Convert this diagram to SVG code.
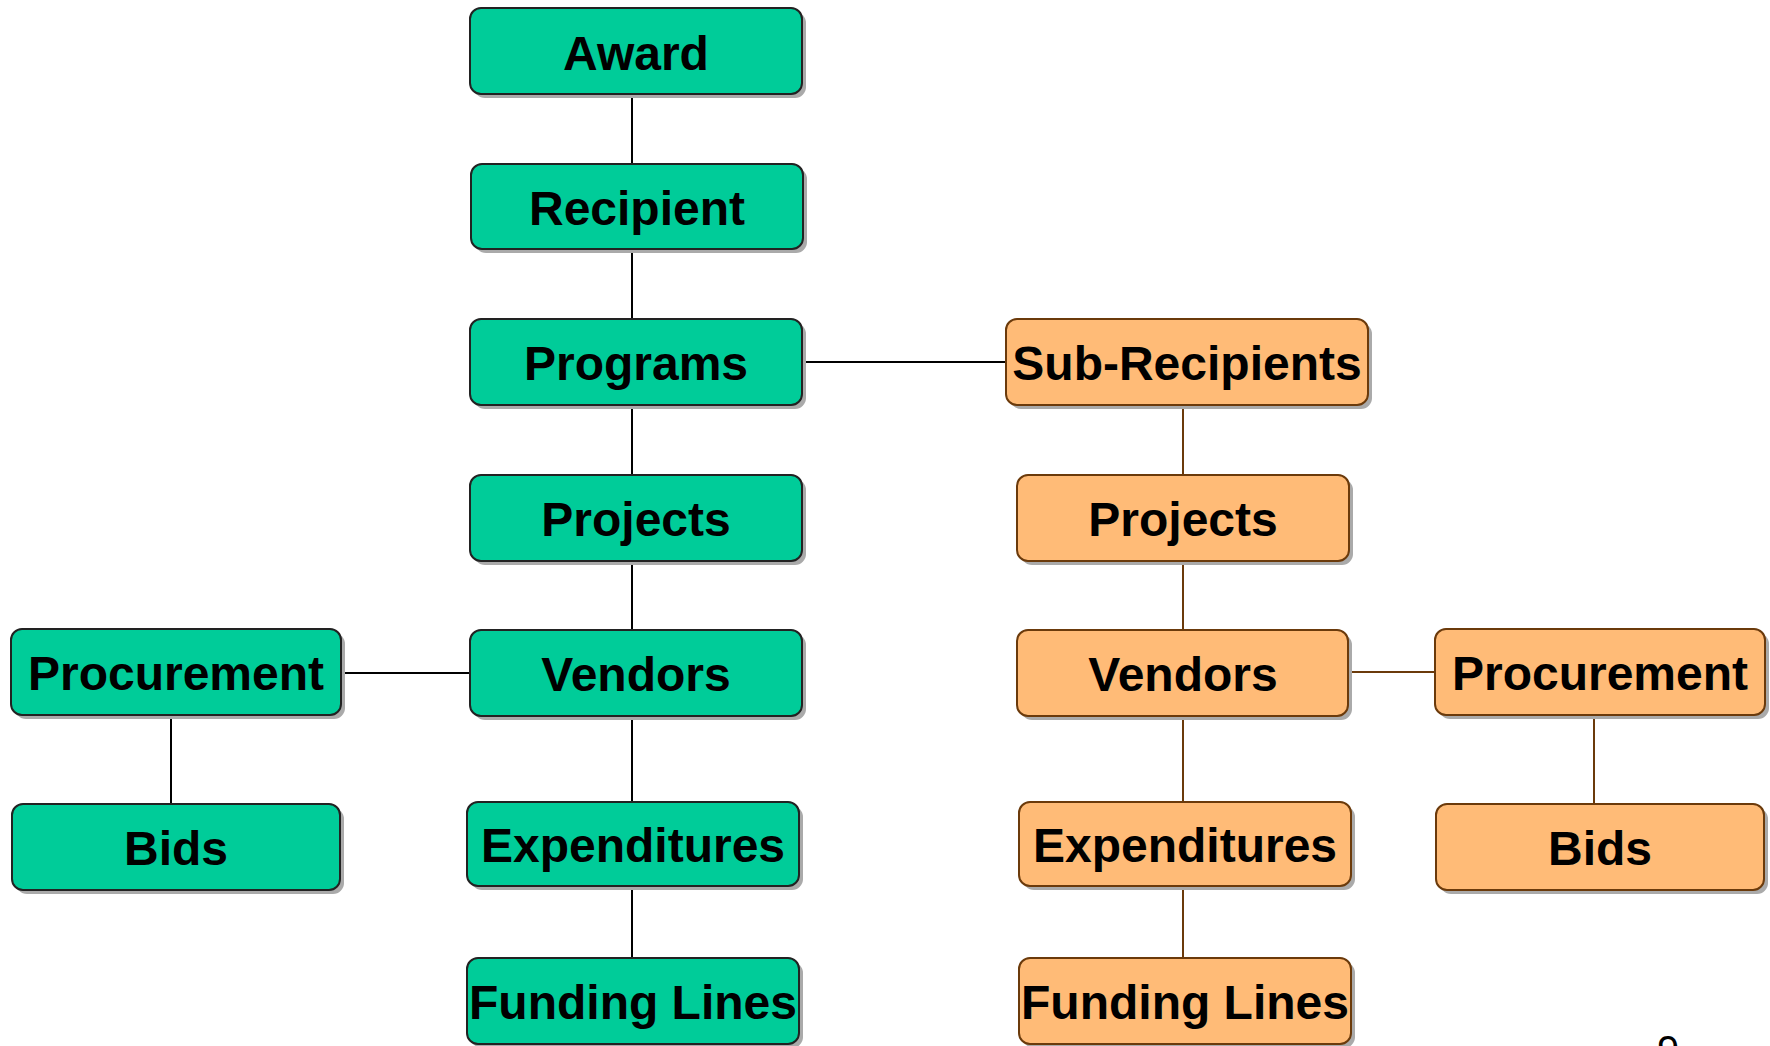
<svg xmlns="http://www.w3.org/2000/svg" width="1770" height="1046" viewBox="0 0 1770 1046">
<style>
.g{fill:#00CC99;stroke:#222;stroke-width:2}
.o{fill:#FFBB77;stroke:#6B3A0B;stroke-width:2}
.sh{fill:#aaa}
.t{font-family:"Liberation Sans",Arial,sans-serif;font-weight:bold;font-size:48px;fill:#000;text-anchor:middle}
.cg{stroke:#000;stroke-width:2;fill:none}
.co{stroke:#6B3A0B;stroke-width:2;fill:none}
</style>
<rect width="1770" height="1046" fill="#fff"/>
<g id="connectors">
<line class="cg" x1="632" y1="93" x2="632" y2="164"/>
<line class="cg" x1="632" y1="249" x2="632" y2="319"/>
<line class="cg" x1="632" y1="405" x2="632" y2="475"/>
<line class="cg" x1="632" y1="561" x2="632" y2="630"/>
<line class="cg" x1="632" y1="716" x2="632" y2="802"/>
<line class="cg" x1="632" y1="885" x2="632" y2="958"/>
<line class="cg" x1="801" y1="362" x2="1006" y2="362"/>
<line class="cg" x1="340" y1="673" x2="470" y2="673"/>
<line class="cg" x1="171" y1="714" x2="171" y2="804"/>
<line class="co" x1="1183" y1="405" x2="1183" y2="475"/>
<line class="co" x1="1183" y1="561" x2="1183" y2="630"/>
<line class="co" x1="1183" y1="716" x2="1183" y2="802"/>
<line class="co" x1="1183" y1="885" x2="1183" y2="958"/>
<line class="co" x1="1348" y1="672" x2="1435" y2="672"/>
<line class="co" x1="1594" y1="714" x2="1594" y2="804"/>
</g>
<g id="award"><rect class="sh" x="474" y="12" width="332" height="86" rx="11"/><rect class="g" x="470" y="8" width="332" height="86" rx="11"/><text class="t" x="636" y="70">Award</text></g>
<g id="recipient"><rect class="sh" x="475" y="168" width="332" height="85" rx="11"/><rect class="g" x="471" y="164" width="332" height="85" rx="11"/><text class="t" x="637" y="225">Recipient</text></g>
<g id="programs"><rect class="sh" x="474" y="323" width="332" height="86" rx="11"/><rect class="g" x="470" y="319" width="332" height="86" rx="11"/><text class="t" x="636" y="380">Programs</text></g>
<g id="projects"><rect class="sh" x="474" y="479" width="332" height="86" rx="11"/><rect class="g" x="470" y="475" width="332" height="86" rx="11"/><text class="t" x="636" y="536">Projects</text></g>
<g id="vendors"><rect class="sh" x="474" y="634" width="332" height="86" rx="11"/><rect class="g" x="470" y="630" width="332" height="86" rx="11"/><text class="t" x="636" y="691">Vendors</text></g>
<g id="expenditures"><rect class="sh" x="471" y="806" width="332" height="84" rx="11"/><rect class="g" x="467" y="802" width="332" height="84" rx="11"/><text class="t" x="633" y="862">Expenditures</text></g>
<g id="funding-lines"><rect class="sh" x="471" y="962" width="332" height="86" rx="11"/><rect class="g" x="467" y="958" width="332" height="86" rx="11"/><text class="t" x="633" y="1019">Funding Lines</text></g>
<g id="procurement-left"><rect class="sh" x="15" y="633" width="330" height="86" rx="11"/><rect class="g" x="11" y="629" width="330" height="86" rx="11"/><text class="t" x="176" y="690">Procurement</text></g>
<g id="bids-left"><rect class="sh" x="16" y="808" width="328" height="86" rx="11"/><rect class="g" x="12" y="804" width="328" height="86" rx="11"/><text class="t" x="176" y="865">Bids</text></g>
<g id="sub-recipients"><rect class="sh" x="1010" y="323" width="362" height="86" rx="11"/><rect class="o" x="1006" y="319" width="362" height="86" rx="11"/><text class="t" x="1187" y="380">Sub-Recipients</text></g>
<g id="sub-projects"><rect class="sh" x="1021" y="479" width="332" height="86" rx="11"/><rect class="o" x="1017" y="475" width="332" height="86" rx="11"/><text class="t" x="1183" y="536">Projects</text></g>
<g id="sub-vendors"><rect class="sh" x="1021" y="634" width="331" height="86" rx="11"/><rect class="o" x="1017" y="630" width="331" height="86" rx="11"/><text class="t" x="1183" y="691">Vendors</text></g>
<g id="sub-expenditures"><rect class="sh" x="1023" y="806" width="332" height="84" rx="11"/><rect class="o" x="1019" y="802" width="332" height="84" rx="11"/><text class="t" x="1185" y="862">Expenditures</text></g>
<g id="sub-funding-lines"><rect class="sh" x="1023" y="962" width="332" height="86" rx="11"/><rect class="o" x="1019" y="958" width="332" height="86" rx="11"/><text class="t" x="1185" y="1019">Funding Lines</text></g>
<g id="procurement-right"><rect class="sh" x="1439" y="633" width="330" height="86" rx="11"/><rect class="o" x="1435" y="629" width="330" height="86" rx="11"/><text class="t" x="1600" y="690">Procurement</text></g>
<g id="bids-right"><rect class="sh" x="1440" y="808" width="328" height="86" rx="11"/><rect class="o" x="1436" y="804" width="328" height="86" rx="11"/><text class="t" x="1600" y="865">Bids</text></g>
<text x="1668" y="1064" font-family="Liberation Sans, Arial, sans-serif" font-size="40" text-anchor="middle" fill="#000">9</text>
</svg>
